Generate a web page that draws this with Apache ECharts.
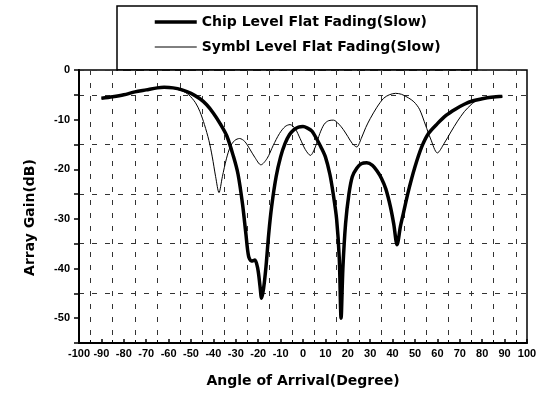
<!DOCTYPE html>
<html><head><meta charset="utf-8">
<script src="https://cdn.jsdelivr.net/npm/echarts@6/dist/echarts.min.js"></script>
<style>html,body{margin:0;padding:0;background:#fff}#c{width:549px;height:393px}</style>
</head><body><div id="c"></div>
<script>
const seriesNames = ['Chip Level Flat Fading(Slow)', 'Symbl Level Flat Fading(Slow)'];
const chipAngle = [-90,-85,-80,-75,-70,-65,-62,-58,-54,-50,-46,-43,-40,-37,-34,-31,-29,-27,-25.5,-24.3,-23,-21.5,-20.2,-19.2,-18.5,-17.6,-16.5,-15.3,-14,-12,-10,-8,-6,-4,-2,0,2,4,6,8,10,12,13.5,15,16.2,17,17.8,19,20.5,22,24,26,28.5,31,33,35,37,39,40.5,42,43.5,45,47,50,53,56,60,64,68,72,76,80,84,89];
const chipGain = [-5.7,-5.4,-5.0,-4.4,-4.0,-3.6,-3.5,-3.6,-4.0,-4.7,-5.8,-7.0,-8.7,-10.8,-13.3,-17.5,-21,-27,-33,-37.5,-38.5,-38.3,-40,-43.5,-46,-44,-39.5,-33,-27.5,-21.5,-17.5,-14.8,-13,-12,-11.5,-11.4,-11.7,-12.3,-13.8,-15.5,-17.5,-21,-25,-30,-38,-50,-40,-31,-25,-21.5,-19.8,-18.9,-18.7,-19.2,-20.3,-21.8,-24,-27.5,-31,-35.2,-31.5,-28.5,-24.5,-19.5,-15.5,-12.8,-10.8,-9.1,-7.9,-6.9,-6.2,-5.8,-5.5,-5.3];
const symAngle = [-90,-85,-80,-75,-70,-65,-62,-58,-54,-51,-48,-46,-44,-42,-40.5,-39,-37.5,-36,-34.2,-32.5,-30.5,-28.3,-26,-23.8,-21.5,-18.8,-16,-13.3,-10.5,-8,-5.8,-3.5,-1.3,1,3.3,5.5,7.5,9.5,11.5,13.6,16,18,20,22,24,26,28,30,33,36,38.5,41.3,44,47,49.5,52,54.7,57,60,63,66,69,72,75,78,82,86,89];
const symGain = [-5.7,-5.4,-5.0,-4.4,-4.0,-3.6,-3.5,-3.7,-4.2,-5,-6.6,-8.4,-11,-14.2,-17.5,-21.5,-24.7,-21.5,-17.9,-15.5,-14.2,-13.8,-14.4,-15.9,-17.6,-19.1,-17.8,-15.2,-12.8,-11.4,-11.0,-11.8,-13.8,-16,-17.2,-15.5,-12.8,-10.9,-10.2,-10.1,-10.9,-12,-13.4,-14.8,-15.5,-13.8,-11.6,-9.8,-7.5,-5.7,-5,-4.7,-4.9,-5.6,-6.4,-7.9,-11.1,-13.9,-16.7,-14.8,-12.5,-10.3,-8.4,-7,-6,-5.5,-5.4,-5.3];
const xTickLabels = [-100,-90,-80,-70,-60,-50,-40,-30,-20,-10,0,10,20,30,40,50,60,70,80,90,100];
const yTickLabels = [0,-10,-20,-30,-40,-50];

const TITLE_FONT = 'DejaVu Sans';
const TICK_FONT = 'Liberation Sans';
const chart = echarts.init(document.getElementById('c'), null, {renderer: 'canvas'});
const pair = (a, b) => a.map((v, i) => [v, b[i]]);
const gridDash = {color: '#333', width: 1, type: [5, 8]};

chart.setOption({
  animation: false,
  backgroundColor: '#fff',
  grid: {left: 79, right: 22, top: 70, bottom: 50, show: true, borderColor: '#000', borderWidth: 1.5, backgroundColor: 'transparent'},
  legend: {
    orient: 'vertical', left: 153, top: 15, padding: 0, itemWidth: 42, itemHeight: 14, itemGap: 11,
    itemStyle: {opacity: 0},
    data: [
      {name: seriesNames[0], lineStyle: {width: 3.5, color: '#000'}},
      {name: seriesNames[1], lineStyle: {width: 1, color: '#000'}}
    ],
    textStyle: {fontFamily: TITLE_FONT, fontWeight: 'bold', fontSize: 14, color: '#000'}
  },
  graphic: [{type: 'rect', shape: {x: 117, y: 6, width: 360, height: 64}, style: {fill: 'transparent', stroke: '#000', lineWidth: 1.5}, z: -1}],
  xAxis: [{
    type: 'value', min: -100, max: 100, interval: 10,
    name: 'Angle of Arrival(Degree)', nameLocation: 'middle', nameGap: 31,
    nameTextStyle: {fontFamily: TITLE_FONT, fontWeight: 'bold', fontSize: 14, color: '#000'},
    axisLine: {show: true, onZero: false, lineStyle: {color: '#000', width: 2}},
    axisTick: {show: true, inside: true, length: 4, lineStyle: {color: '#000', width: 1.5}},
    minorTick: {show: true, splitNumber: 2, length: 3, lineStyle: {color: '#000', width: 1}},
    minorSplitLine: {show: true, lineStyle: gridDash},
    splitLine: {show: false},
    axisLabel: {fontFamily: TICK_FONT, fontWeight: 'bold', fontSize: 11, color: '#000', margin: 5,
      formatter: v => xTickLabels.includes(v) ? String(v) : ''}
  }],
  yAxis: [{
    type: 'value', min: -55, max: 0, interval: 5,
    name: 'Array Gain(dB)', nameLocation: 'middle', nameGap: 42,
    nameTextStyle: {fontFamily: TITLE_FONT, fontWeight: 'bold', fontSize: 14, color: '#000', padding: [0, 22, 0, 0]},
    axisLine: {show: true, onZero: false, lineStyle: {color: '#000', width: 2}},
    axisTick: {show: true, inside: false, length: 5, lineStyle: {color: '#000', width: 1.5}},
    splitLine: {show: false},
    axisLabel: {fontFamily: TICK_FONT, fontWeight: 'bold', fontSize: 11, color: '#000', margin: 9,
      formatter: v => yTickLabels.includes(v) ? String(v) : ''}
  }, {
    type: 'value', min: -55, max: 0, interval: 10, position: 'right',
    axisLine: {show: false}, axisTick: {show: false}, axisLabel: {show: false},
    splitLine: {show: true, lineStyle: gridDash}
  }],
  series: [{
    name: seriesNames[0], type: 'line', data: pair(chipAngle, chipGain),
    showSymbol: false, symbol: 'none', smooth: 0.3,
    lineStyle: {color: '#000', width: 3.5}, itemStyle: {color: '#000'}, z: 3
  }, {
    name: seriesNames[1], type: 'line', data: pair(symAngle, symGain),
    showSymbol: false, symbol: 'none', smooth: 0.3,
    lineStyle: {color: '#000', width: 1}, itemStyle: {color: '#000'}, z: 2
  }]
});
</script></body></html>
